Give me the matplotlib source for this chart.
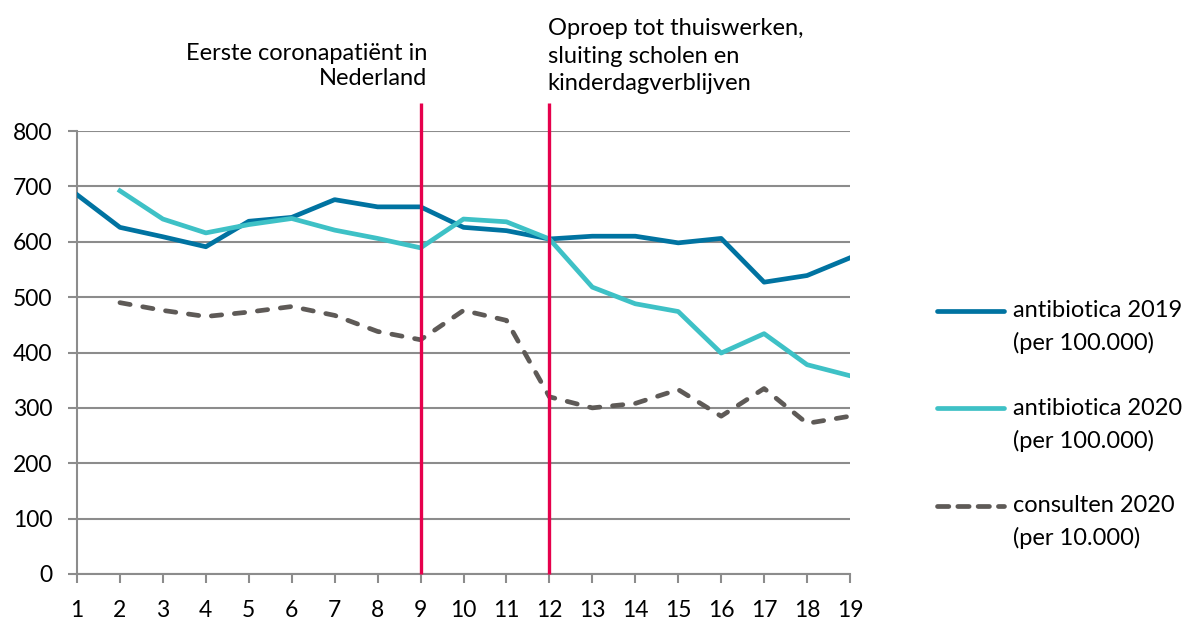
import matplotlib
matplotlib.use("Agg")
import matplotlib.pyplot as plt
from matplotlib.lines import Line2D

plt.rcParams['font.family'] = ['Lato', 'DejaVu Sans']

weeks = list(range(1, 20))
ab2019 = [685, 626, 609, 591, 637, 644, 676, 663, 663, 626, 620, 605, 610, 610, 598, 606, 527, 539, 571]
weeks2020 = list(range(2, 20))
ab2020 = [692, 641, 616, 631, 642, 621, 606, 589, 641, 636, 605, 518, 488, 474, 399, 434, 378, 358]
consult2020 = [490, 476, 465, 473, 483, 467, 438, 423, 476, 458, 320, 300, 308, 333, 285, 335, 272, 285]

events = [9, 12]
event_labels = ["Eerste coronapatiënt in\nNederland",
                "Oproep tot thuiswerken,\nsluiting scholen en\nkinderdagverblijven"]

series_labels = [("antibiotica 2019", "(per 100.000)"),
                 ("antibiotica 2020", "(per 100.000)"),
                 ("consulten 2020", "(per 10.000)")]

W, H = 1195, 621
fig = plt.figure(figsize=(W / 100, H / 100), dpi=100)
ax = fig.add_axes([77 / W, 1 - 574 / H, (850 - 77) / W, (574 - 131) / H])

c19, c20, cco = '#0073A1', '#3EC1C6', '#5E5A57'
dash = (0, (2.2, 2.7))
lw = 3.4

ax.plot(weeks, ab2019, color=c19, lw=lw, zorder=3)
ax.plot(weeks2020, ab2020, color=c20, lw=lw, zorder=3)
ax.plot(weeks2020, consult2020, color=cco, lw=lw, ls=dash, dash_capstyle='round', zorder=3)

ax.vlines(events, 0, 850, color='#E6004C', lw=2.4, clip_on=False, zorder=4)

ax.set_xlim(1, 19)
ax.set_ylim(0, 800)
ax.set_xticks(weeks)
ax.set_yticks(range(0, 801, 100))
ax.yaxis.grid(True, color='#8c8c8c', lw=1.5)
ax.set_axisbelow(True)
for s in ['top', 'right']:
    ax.spines[s].set_visible(False)
for s in ['left', 'bottom']:
    ax.spines[s].set_color('#8c8c8c')
    ax.spines[s].set_linewidth(1.5)
ax.tick_params(axis='x', length=6.5, width=1.5, color='#8c8c8c', labelsize=16.5, pad=12)
ax.tick_params(axis='y', length=6.5, width=1.5, color='#8c8c8c', labelsize=16.5, pad=11)

# annotations for the two events
ax.text(9.16, 883, event_labels[0], ha='right', va='baseline', fontsize=17, linespacing=1.25)
ax.text(11.96, 874, event_labels[1], ha='left', va='baseline', fontsize=17, linespacing=1.37)

# legend, drawn by hand so the handle lines up with the first text line
styles = [dict(color=c19, lw=lw, solid_capstyle='round'),
          dict(color=c20, lw=lw, solid_capstyle='round'),
          dict(color=cco, lw=lw, ls=(0, (2.4, 1.9)), dash_capstyle='round')]
for i, ((l1, l2), st) in enumerate(zip(series_labels, styles)):
    off = i * 97.7
    yl = 1 - (310.7 + off) / H
    fig.add_artist(Line2D([937 / W, 1004 / W], [yl, yl], transform=fig.transFigure, **st))
    fig.text(1013 / W, 1 - (317 + off) / H, l1, va='baseline', fontsize=17)
    fig.text(1013 / W, 1 - (350 + off) / H, l2, va='baseline', fontsize=17)

fig.savefig('out.png', dpi=100)
